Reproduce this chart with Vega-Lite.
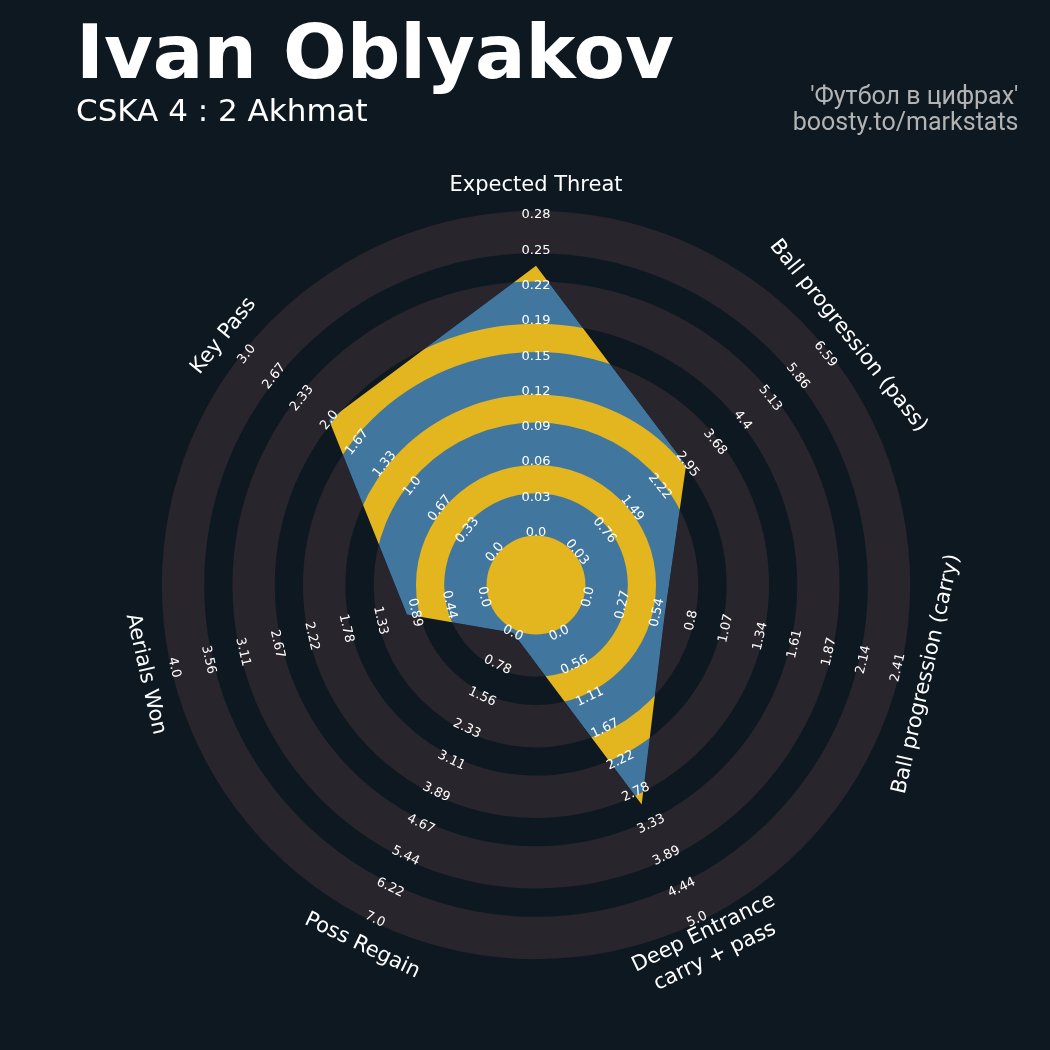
{
  "$schema": "https://vega.github.io/schema/vega-lite/v6.json",
  "width": 900,
  "height": 900,
  "autosize": {"type": "none"},
  "padding": {"left": 86, "top": 135, "right": 64, "bottom": 15},
  "background": "#0e1820",
  "title": {
    "text": "Ivan Oblyakov",
    "subtitle": "CSKA 4 : 2 Akhmat",
    "anchor": "start",
    "frame": "group",
    "orient": "top",
    "font": "DejaVu Sans",
    "fontSize": 75,
    "fontWeight": "bold",
    "color": "#ffffff",
    "subtitleFont": "DejaVu Sans",
    "subtitleFontSize": 31,
    "subtitleColor": "#ffffff",
    "subtitleFontWeight": "normal",
    "subtitlePadding": 3,
    "offset": -45,
    "dx": -10
  },
  "datasets": {
    "params": [
      {"key": "xT", "idx": 0, "label": "Expected Threat", "value": 0.233, "min": 0, "max": 0.278, "ticks": ["0.0", "0.03", "0.06", "0.09", "0.12", "0.15", "0.19", "0.22", "0.25", "0.28"]},
      {"key": "pass", "idx": 1, "label": "Ball progression (pass)", "value": 2.9, "min": 0.03, "max": 6.59, "ticks": ["0.03", "0.76", "1.49", "2.22", "2.95", "3.68", "4.4", "5.13", "5.86", "6.59"]},
      {"key": "carry", "idx": 2, "label": "Ball progression (carry)", "value": 0.6, "min": 0, "max": 2.41, "ticks": ["0.0", "0.27", "0.54", "0.8", "1.07", "1.34", "1.61", "1.87", "2.14", "2.41"]},
      {"key": "deep", "idx": 3, "label": "Deep Entrance\ncarry + pass", "value": 3.0, "min": 0, "max": 5, "ticks": ["0.0", "0.56", "1.11", "1.67", "2.22", "2.78", "3.33", "3.89", "4.44", "5.0"]},
      {"key": "regain", "idx": 4, "label": "Poss Regain", "value": 0, "min": 0, "max": 7, "ticks": ["0.0", "0.78", "1.56", "2.33", "3.11", "3.89", "4.67", "5.44", "6.22", "7.0"]},
      {"key": "aerial", "idx": 5, "label": "Aerials Won", "value": 1.0, "min": 0, "max": 4, "ticks": ["0.0", "0.44", "0.89", "1.33", "1.78", "2.22", "2.67", "3.11", "3.56", "4.0"]},
      {"key": "keypass", "idx": 6, "label": "Key Pass", "value": 2.0, "min": 0, "max": 3, "ticks": ["0.0", "0.33", "0.67", "1.0", "1.33", "1.67", "2.0", "2.33", "2.67", "3.0"]}
    ],
    "rings": [
      {"band": "disc", "r0": 0, "r1": 10.6},
      {"band": "ring", "r0": 1.4, "r1": 2.6},
      {"band": "ring", "r0": 3.4, "r1": 4.6},
      {"band": "ring", "r0": 5.4, "r1": 6.6},
      {"band": "ring", "r0": 7.4, "r1": 8.6},
      {"band": "ring", "r0": 9.4, "r1": 10.6}
    ],
    "mask": [
      {"o": 0, "sx": -11, "sy": -11},
      {"o": 1, "sx": 11, "sy": -11},
      {"o": 2, "sx": 11, "sy": 11},
      {"o": 3, "sx": -11, "sy": 11},
      {"o": 4, "sx": -11, "sy": -11},
      {"o": 5, "key": "xT"},
      {"o": 6, "key": "pass"},
      {"o": 7, "key": "carry"},
      {"o": 8, "key": "deep"},
      {"o": 9, "key": "regain"},
      {"o": 10, "key": "aerial"},
      {"o": 11, "key": "keypass"},
      {"o": 12, "key": "xT"}
    ]
  },
  "layer": [
    {
      "data": {"name": "rings"},
      "mark": {"type": "arc", "theta": 0, "theta2": 6.2832},
      "encoding": {
        "radius": {"field": "r1", "type": "quantitative", "scale": {"type": "linear", "domain": [0, 12.748], "range": [0, 450], "zero": true, "nice": false}},
        "radius2": {"field": "r0"},
        "color": {"field": "band", "type": "nominal", "scale": {"domain": ["disc", "ring"], "range": ["#e3b51e", "#41779f"]}, "legend": null}
      }
    },
    {
      "data": {"name": "mask"},
      "transform": [
        {"lookup": "key", "from": {"data": {"name": "params"}, "key": "key", "fields": ["idx", "value", "min", "max"]}},
        {"calculate": "PI/2 - datum.idx*2*PI/7", "as": "a"},
        {"calculate": "1.5 + 9*(datum.value - datum.min)/(datum.max - datum.min)", "as": "u"},
        {"calculate": "datum.key ? datum.u*cos(datum.a) : datum.sx", "as": "px"},
        {"calculate": "datum.key ? datum.u*sin(datum.a) : datum.sy", "as": "py"}
      ],
      "mark": {"type": "line", "filled": true, "color": "#0e1820", "strokeWidth": 0, "interpolate": "linear"},
      "encoding": {
        "x": {"field": "px", "type": "quantitative", "scale": {"domain": [-12.748, 12.748], "nice": false, "zero": false}, "axis": {"orient": "top", "title": ["'Футбол в цифрах'", "boosty.to/markstats"]}},
        "y": {"field": "py", "type": "quantitative", "scale": {"domain": [-12.748, 12.748], "nice": false, "zero": false}, "axis": null},
        "order": {"field": "o", "type": "quantitative"}
      }
    },
    {
      "data": {"name": "rings"},
      "transform": [{"filter": "datum.band == 'ring'"}],
      "mark": {"type": "arc", "theta": 0, "theta2": 6.2832, "color": "#28252c", "blend": "lighten"},
      "encoding": {
        "radius": {"field": "r1", "type": "quantitative", "scale": {"type": "linear", "domain": [0, 12.748], "range": [0, 450], "zero": true, "nice": false}},
        "radius2": {"field": "r0"}
      }
    },
    {
      "data": {"name": "params"},
      "transform": [
        {"flatten": ["ticks"]},
        {"window": [{"op": "row_number", "as": "rn"}], "groupby": ["key"]},
        {"calculate": "PI/2 - datum.idx*2*PI/7", "as": "a"},
        {"calculate": "0.5 + datum.rn", "as": "u"},
        {"calculate": "datum.u*cos(datum.a)", "as": "px"},
        {"calculate": "datum.u*sin(datum.a)", "as": "py"},
        {"calculate": "((datum.idx*360/7 + 90) % 180) - 90", "as": "rot"}
      ],
      "mark": {"type": "text", "font": "DejaVu Sans", "fontSize": 13, "color": "#ffffff", "align": "center", "baseline": "middle"},
      "encoding": {
        "x": {"field": "px", "type": "quantitative", "scale": {"domain": [-12.748, 12.748], "nice": false, "zero": false}, "axis": {"orient": "top", "title": ["'Футбол в цифрах'", "boosty.to/markstats"]}},
        "y": {"field": "py", "type": "quantitative", "scale": {"domain": [-12.748, 12.748], "nice": false, "zero": false}, "axis": null},
        "text": {"field": "ticks", "type": "nominal"},
        "angle": {"field": "rot", "type": "quantitative", "scale": null}
      }
    },
    {
      "data": {"name": "params"},
      "transform": [
        {"calculate": "PI/2 - datum.idx*2*PI/7", "as": "a"},
        {"calculate": "indexof(datum.label, '\\n') >= 0 ? 10.93 : 11.33", "as": "lr"},
        {"calculate": "datum.lr*cos(datum.a)", "as": "px"},
        {"calculate": "datum.lr*sin(datum.a)", "as": "py"},
        {"calculate": "((datum.idx*360/7 + 90) % 180) - 90", "as": "rot"}
      ],
      "mark": {"type": "text", "font": "DejaVu Sans", "fontSize": 21, "color": "#ffffff", "align": "center", "baseline": "middle", "lineBreak": "\n", "lineHeight": 26},
      "encoding": {
        "x": {"field": "px", "type": "quantitative", "scale": {"domain": [-12.748, 12.748], "nice": false, "zero": false}, "axis": {"orient": "top", "title": ["'Футбол в цифрах'", "boosty.to/markstats"]}},
        "y": {"field": "py", "type": "quantitative", "scale": {"domain": [-12.748, 12.748], "nice": false, "zero": false}, "axis": null},
        "text": {"field": "label", "type": "nominal"},
        "angle": {"field": "rot", "type": "quantitative", "scale": null}
      }
    }
  ],
  "config": {
    "view": {"stroke": null},
    "axisX": {
      "domain": false,
      "ticks": false,
      "labels": false,
      "grid": false,
      "titleFont": "Roboto",
      "titleFontSize": 25,
      "titleFontWeight": "normal",
      "titleColor": "#b3b3b3",
      "titleAlign": "right",
      "titleAnchor": "end",
      "titleBaseline": "alphabetic",
      "titleAngle": 0,
      "titleX": 932,
      "titleY": -32,
      "titleLineHeight": 26,
      "titlePadding": 0
    }
  }
}
